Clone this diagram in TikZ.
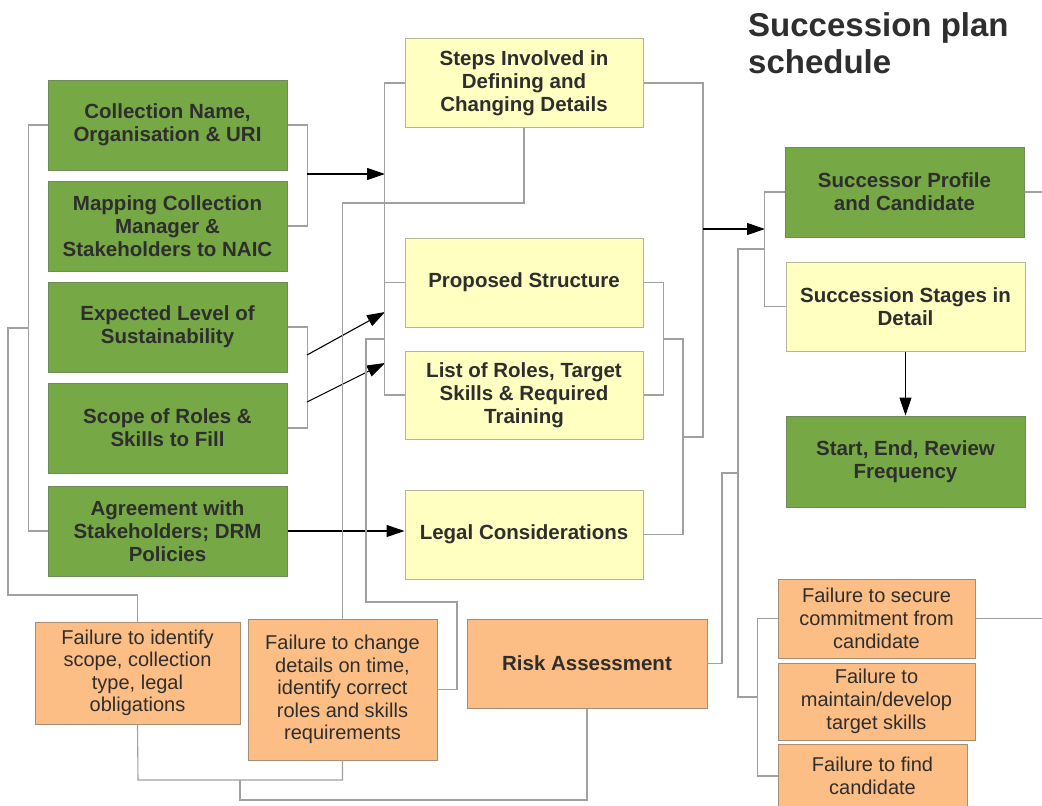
\documentclass[tikz,border=0pt]{standalone}
\usepackage{fontspec}
\setmainfont{Liberation Sans}
\usetikzlibrary{arrows.meta}
\definecolor{boxgreen}{HTML}{77A846}
\definecolor{greenline}{HTML}{6E8C5A}
\definecolor{boxyellow}{HTML}{FFFFC2}
\definecolor{yellowline}{HTML}{B5B597}
\definecolor{boxorange}{HTML}{FCBE85}
\definecolor{orangeline}{HTML}{A88C74}
\definecolor{connline}{HTML}{A0A0A0}
\definecolor{textdark}{HTML}{2E2E2E}
\begin{document}
\begin{tikzpicture}[x=1pt,y=-1pt,
  basebox/.style={line width=1pt, inner sep=0pt, align=center, text=textdark},
  gbox/.style={basebox, draw=greenline, fill=boxgreen, minimum width=239pt, minimum height=90pt,
    font=\fontsize{20.5}{23}\selectfont\bfseries},
  ybox/.style={basebox, draw=yellowline, fill=boxyellow, minimum width=238pt, minimum height=89pt,
    font=\fontsize{20.5}{23}\selectfont\bfseries},
  obox/.style={basebox, draw=orangeline, fill=boxorange,
    font=\fontsize{20}{22.5}\selectfont},
  conn/.style={draw=connline, line width=1.1pt},
  arr/.style={draw=black, line width=1.1pt, -{Triangle[length=18pt,width=12pt]}}]
\useasboundingbox (0,0) rectangle (1042,806);
\clip (0,0) rectangle (1042,806);

% title
\node[anchor=north west, inner sep=0pt, align=left, text=textdark,
  font=\fontsize{33}{37}\selectfont\bfseries] (title) at (748,12) {Succession plan\\schedule};

% input column
\node[gbox] (g1) at (167.5,125) {Collection Name,\\Organisation \& URI};
\node[gbox] (g2) at (167.5,226) {Mapping Collection\\Manager \&\\Stakeholders to NAIC};
\node[gbox] (g3) at (167.5,327) {Expected Level of\\Sustainability};
\node[gbox] (g4) at (167.5,428) {Scope of Roles \&\\Skills to Fill};
\node[gbox] (g5) at (167.5,531) {Agreement with\\Stakeholders; DRM\\Policies};

% definition column
\node[ybox] (y1) at (524,83) {Steps Involved in\\Defining and\\Changing Details};
\node[ybox] (y2) at (524,282.5) {Proposed Structure};
\node[ybox, minimum height=88pt] (y3) at (524,395) {List of Roles, Target\\Skills \& Required\\Training};
\node[ybox] (y4) at (524,534.5) {Legal Considerations};

% schedule column
\node[gbox] (r1) at (904.5,192) {Successor Profile\\and Candidate};
\node[ybox, minimum width=239pt] (r2) at (905.5,306.5) {Succession Stages in\\Detail};
\node[gbox, minimum height=91pt] (r3) at (905.5,461.5) {Start, End, Review\\Frequency};

% risks
\node[obox, minimum width=205pt, minimum height=102pt] (o1) at (137.5,673) {Failure to identify\\scope, collection\\type, legal\\obligations};
\node[obox, minimum width=189pt, minimum height=141pt] (o2) at (342.5,689.5) {Failure to change\\details on time,\\identify correct\\roles and skills\\requirements};
\node[obox, minimum width=240pt, minimum height=89pt, font=\fontsize{20.5}{23}\selectfont\bfseries] (risk) at (587,663.5) {Risk Assessment};
\node[obox, minimum width=197pt, minimum height=79pt, font=\fontsize{20}{23}\selectfont] (f1) at (876.5,618.5) {Failure to secure\\commitment from\\candidate};
\node[obox, minimum width=197pt, minimum height=77pt, font=\fontsize{20}{23}\selectfont] (f2) at (876.5,701.5) {Failure to\\maintain/develop\\target skills};
\node[obox, minimum width=189pt, minimum height=64pt, font=\fontsize{20}{23}\selectfont] (f3) at (872.5,776) {Failure to find\\candidate};

% junction points
\coordinate (ga) at (307,174);  \coordinate (ya) at (385,174);
\coordinate (gb) at (307,355);  \coordinate (yb) at (385,312);
\coordinate (gc) at (307,402);  \coordinate (yc) at (385,363);
\coordinate (lb) at (29,328);   \coordinate (lc) at (8,595);
\coordinate (lo) at (138,780);  \coordinate (lp) at (240,780);
\coordinate (lq) at (240,800);
\coordinate (yd) at (385,339);  \coordinate (ye) at (366,602);
\coordinate (yf) at (457,602);
\coordinate (yg) at (663,339);  \coordinate (yh) at (683,437);
\coordinate (yi) at (703,229);  \coordinate (ri) at (765,229);
\coordinate (rj) at (765,249);  \coordinate (rk) at (738,697);
\coordinate (rl) at (738,473);  \coordinate (rm) at (722,473);

% input brackets and arrows
\draw[conn] (g1.east) -- ++(20,0) |- (g2.east);
\draw[arr] (ga) -- (ya);
\draw[conn] (g3.east) -- ++(20,0) |- (g4.east);
\draw[arr] (gb) -- (yb);
\draw[arr] (gc) -- (yc);
\draw[arr] (g5.east) -- (g5.east -| y4.west);
\draw[conn] (g1.west) -- ++(-19,0) |- (g5.west);
\draw[conn] (lb) -| (lc) -| (o1.north);

% risk links at the bottom
\draw[conn] (o1.south) -- (lo) -| (o2.south);
\draw[conn] (lp) -- (lq) -| (risk.south);
\draw[conn] (y1.south) -- ++(0,75) -| (o2.north);

% definition brackets
\draw[conn] (y1.west) -- ++(-20,0) |- (y3.west);
\draw[conn] (y2.west) -- ++(-20,0);
\draw[conn] (yd) -| (ye) -- (yf) |- (o2.east);
\draw[conn] (y2.east) -- ++(20,0) |- (y3.east);
\draw[conn] (yg) -- ++(20,0) |- (y4.east);
\draw[conn] (yh) -- ++(20,0) |- (y1.east);
\draw[arr] (yi) -- (ri);

% schedule brackets
\draw[conn] (r1.west) -- ++(-20,0) |- (r2.west);
\draw[conn] (rj) -| (rk) -- ++(20,0);
\draw[conn] (rl) -- (rm) |- (risk.east);
\draw[conn] (f1.west) -- ++(-20,0) |- (f3.west);
\draw[conn] (r1.east) -- ++(20,0);
\draw[conn] (f1.east) -- ++(70,0);
\draw[arr] (r2.south) -- (r3.north);
\end{tikzpicture}
\end{document}
